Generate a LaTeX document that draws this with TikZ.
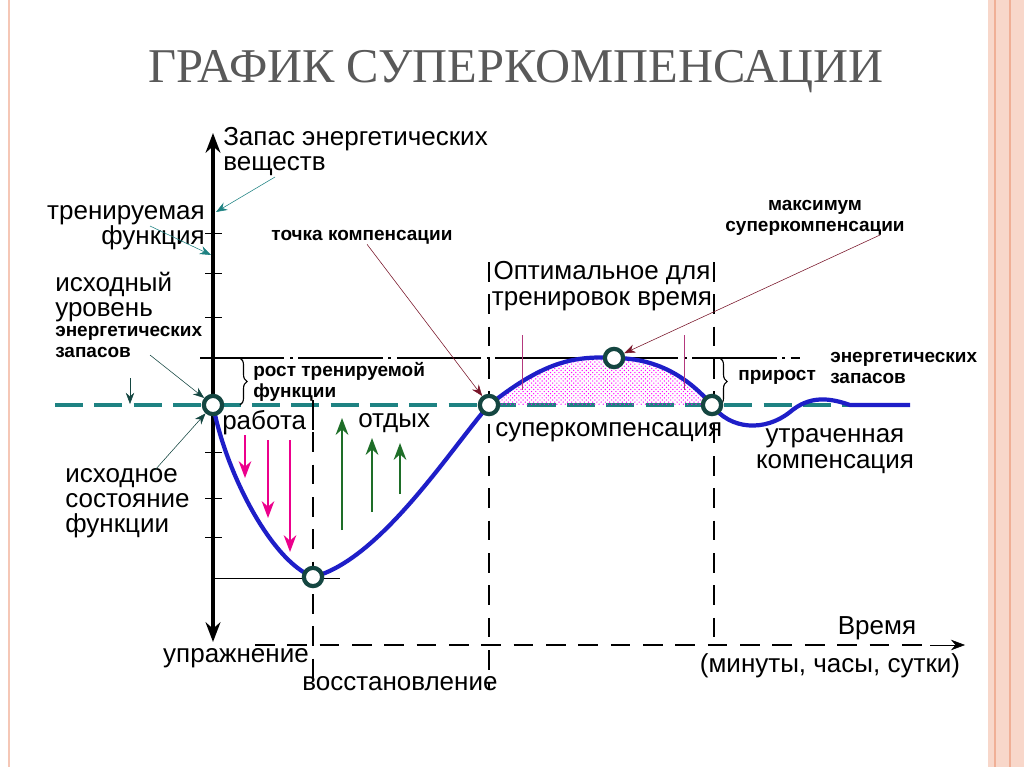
\documentclass[tikz,border=0pt]{standalone}
\usepackage{fontspec}
\setmainfont{Liberation Sans}
\newfontfamily\titlefont{Liberation Serif}
\usetikzlibrary{patterns, decorations.pathreplacing, positioning, arrows.meta}
\definecolor{tealnode}{RGB}{20,70,65}
\definecolor{curveblue}{RGB}{30,30,200}
\definecolor{baseteal}{RGB}{30,130,130}
\definecolor{frame}{RGB}{240,175,150}
\definecolor{darkred}{RGB}{120,20,40}
\definecolor{greenarr}{RGB}{30,110,40}
\begin{document}
\begin{tikzpicture}[x=0.025cm, y=-0.025cm,
    lbl/.style={font=\fontsize{18.5}{18}\selectfont, inner sep=0pt, align=left},
    small/.style={font=\bfseries\fontsize{13.5}{15}\selectfont, inner sep=0pt, align=left},
    pt/.style={circle, draw=tealnode, line width=3pt, fill=white, minimum size=13pt, inner sep=0pt},
    guide/.style={dashed, line width=1pt, dash pattern=on 14pt off 9pt},
    pointer/.style={-{Stealth[length=8pt]}, thin}]
    \useasboundingbox (0,0) rectangle (1024,767);
    % frame
    \fill[frame!50] (988,0) rectangle (1024,767);
    \draw[frame, line width=1.5pt] (995,0) -- (995,767);
    \draw[frame, line width=1pt] (1010,0) -- (1010,767);
    \draw[frame!70, line width=1pt] (9,0) -- (9,767);
    \node[font=\titlefont\fontsize{34.5}{38}\selectfont, text=gray!70!black] (title) at (516,72) {ГРАФИК СУПЕРКОМПЕНСАЦИИ};
    % levels and guides
    \draw[baseteal, line width=2.5pt, dash pattern=on 20pt off 8pt] (55,405) -- (910,405);
    \draw[line width=1.5pt, dash pattern=on 60pt off 4pt on 2pt off 4pt] (200,358) -- (800,358);
    \draw[guide] (313,400) -- (313,690);
    \draw[guide] (489,262) -- (489,690);
    \draw[guide] (714,262) -- (714,640);
    \draw[guide] (255,645) -- (930,645);
    \draw[-{Stealth[length=10pt]}] (930,645) -- (965,645);
    \draw (213,578) -- (340,578);
    % axis
    \draw[line width=3pt, {Stealth[length=14pt]}-{Stealth[length=14pt]}] (213,133) -- (213,642);
    \foreach \ty in {233,273,317,452,498,537}
        \draw (205,\ty) -- (222,\ty);
    % hump fill
    \fill[pattern=crosshatch dots, pattern color=magenta] (489,405) .. controls (540,365) and (570,355) .. (614,358)
        .. controls (660,358) and (690,380) .. (712,405) -- cycle;
    % curve
    \draw[curveblue, line width=3pt] (213,405) .. controls (225,470) and (270,560) .. (313,577)
        .. controls (380,560) and (450,450) .. (489,405)
        .. controls (540,365) and (570,355) .. (614,358)
        .. controls (660,358) and (690,380) .. (712,405)
        .. controls (730,430) and (765,432) .. (790,412)
        .. controls (810,395) and (830,398) .. (850,405) -- (910,405);
    % work and rest arrows
    \foreach \ax/\ay/\by in {245/435/478, 268/440/518, 290/440/552}
        \draw[magenta, -{Stealth[length=12pt]}, line width=1pt] (\ax,\ay) -- (\ax,\by);
    \foreach \ax/\ay/\by in {342/530/418, 372/512/438, 400/494/443}
        \draw[greenarr, -{Stealth[length=12pt]}, line width=1.5pt] (\ax,\ay) -- (\ax,\by);
    \draw[magenta!70!black] (522,335) -- (522,390);
    \draw[magenta!70!black] (684,335) -- (684,390);
    \draw[line width=1pt] (313,408) -- (313,430);
    % braces
    \draw[decorate, decoration={brace, amplitude=5pt}, thick] (240,358) -- (240,405);
    \draw[decorate, decoration={brace, amplitude=5pt}, thick] (720,358) -- (720,405);
    % key points
    \node[pt] (start) at (213,405) {};
    \node[pt] (low) at (313,577) {};
    \node[pt] (comp) at (489,405) {};
    \node[pt] (peak) at (614,358) {};
    \node[pt] (lost) at (712,405) {};
    % labels
    \node[lbl, anchor=north west] (stock) at (223,127) {Запас энергетических\\веществ};
    \node[lbl, anchor=north east, align=right] (func) at (205,205) {тренируемая\\функция};
    \node[lbl, anchor=north west] (level) at (55,272) {исходный\\уровень};
    \node[small, anchor=north west] (levelsub) at (55,326) {энергетических\\запасов};
    \node[small, anchor=north west] (growth) at (253,362) {рост тренируемой\\функции};
    \node[lbl, anchor=north west] (work) at (222,410) {работа};
    \node[lbl, anchor=north west] (rest) at (358,413) {отдых};
    \node[small] (comptext) at (362,237) {точка компенсации};
    \node[lbl, align=center] (optimal) at (602,286) {Оптимальное для\\тренировок время};
    \node[small, align=center] (maxtext) at (815,218) {максимум\\суперкомпенсации};
    \node[small, anchor=north west] (gaintext) at (830,352) {энергетических\\запасов};
    \node[small, anchor=west] (gain) at (738,377) {прирост};
    \node[lbl, anchor=north west] (super) at (495,422) {суперкомпенсация};
    \node[lbl, align=center] (losttext) at (835,451) {утраченная\\компенсация};
    \node[lbl, anchor=north west] (initial) at (65,468) {исходное\\состояние\\функции};
    \node[lbl] (exercise) at (236,658) {упражнение};
    \node[lbl] (recovery) at (400,684) {восстановление};
    \node[lbl] (time) at (877,628) {Время};
    \node[lbl] (units) at (830,666) {(минуты, часы, сутки)};
    % pointers
    \draw[pointer, baseteal] (275,177) -- (216,212);
    \draw[pointer, baseteal] (150,226) -- (211,255);
    \draw[pointer, tealnode] (150,355) -- (start);
    \draw[pointer, tealnode] (130,378) -- (130,404);
    \draw[pointer, tealnode] (155,470) -- (start);
    \draw[pointer, darkred] (comptext.south) ++(5,0) -- (comp);
    \draw[pointer, darkred] (880,235) -- (peak);
\end{tikzpicture}
\end{document}
